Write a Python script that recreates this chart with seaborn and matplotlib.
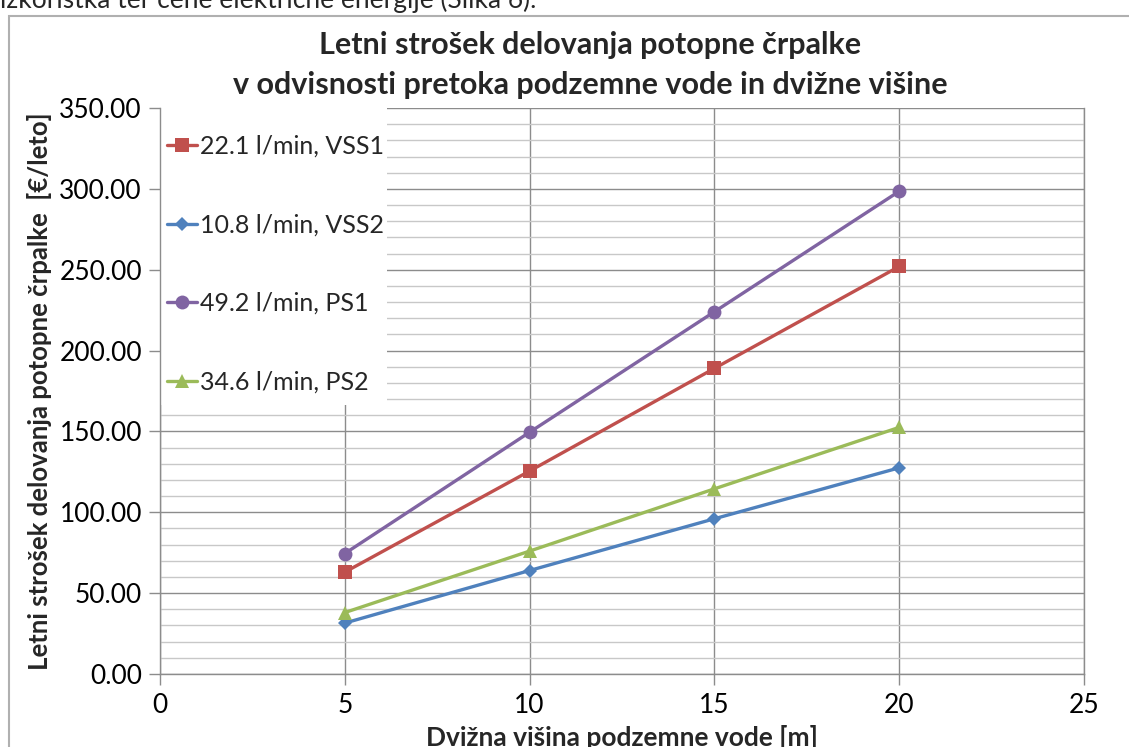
import matplotlib
matplotlib.use("Agg")
import matplotlib.pyplot as plt
from matplotlib.patches import Rectangle
from matplotlib.ticker import MultipleLocator, FormatStrFormatter
import seaborn as sns
import pandas as pd

heights = [5, 10, 15, 20]
series_names = ["22.1 l/min, VSS1", "10.8 l/min, VSS2", "49.2 l/min, PS1", "34.6 l/min, PS2"]
vss1 = [63.0, 125.5, 189.0, 252.0]
vss2 = [31.5, 64.0, 96.0, 127.5]
ps1 = [74.5, 149.5, 224.0, 298.5]
ps2 = [38.0, 76.0, 114.5, 152.5]
colors = ["#C0504D", "#4F81BD", "#8064A2", "#9BBB59"]
marker_list = ["s", "D", "o", "^"]
marker_sizes = [10, 7.5, 10, 10]

rows = []
for name, vals in zip(series_names, [vss1, vss2, ps1, ps2]):
    for h, v in zip(heights, vals):
        rows.append({"h": h, "v": v, "s": name})
df = pd.DataFrame(rows)

sns.set_theme(style="white")
plt.rcParams['font.family'] = ['Lato', 'DejaVu Sans']

fig = plt.figure(figsize=(11.29, 7.47), dpi=100)
ax = fig.add_axes([160/1129, 1-674/747, (1084-160)/1129, (674-108)/747])

for name, c, m, ms in zip(series_names, colors, marker_list, marker_sizes):
    sub = df[df["s"] == name]
    sns.lineplot(data=sub, x="h", y="v", ax=ax, color=c, marker=m, markersize=ms,
                 markeredgewidth=0, linewidth=2.4, label=name, zorder=3)

ax.set_xlim(0, 25)
ax.set_ylim(0, 350)
ax.xaxis.set_major_locator(MultipleLocator(5))
ax.yaxis.set_major_locator(MultipleLocator(50))
ax.yaxis.set_minor_locator(MultipleLocator(10))
ax.yaxis.set_major_formatter(FormatStrFormatter("%.2f"))
ax.grid(True, which="major", axis="both", color="#8c8c8c", linewidth=1.0, zorder=0)
ax.grid(True, which="minor", axis="y", color="#c8c8c8", linewidth=1.0, zorder=0)
ax.set_axisbelow(True)
for sp in ax.spines.values():
    sp.set_color("#8c8c8c")
    sp.set_linewidth(1.0)
ax.spines["top"].set_visible(False)
ax.tick_params(axis="both", which="major", direction="out", length=8, width=1,
               color="#8c8c8c", labelsize=19, labelcolor="black", pad=5)
ax.tick_params(axis="x", pad=6)
ax.tick_params(axis="y", which="minor", length=0)
ax.tick_params(left=True, bottom=True)

ax.set_xlabel("Dvižna višina podzemne vode [m]", fontsize=19, fontweight="bold", labelpad=5)
ax.set_ylabel("Letni strošek delovanja potopne črpalke  [€/leto]", fontsize=18.5,
              fontweight="bold", labelpad=5)

# white legend area covering the grid in the upper-left corner
ax.add_patch(Rectangle((0, (674-405)/566), (387-160)/924, 1 - (674-405)/566,
                       transform=ax.transAxes, facecolor="white", edgecolor="none", zorder=1))

leg = ax.legend(loc="upper left", bbox_to_anchor=(7/924, (674-135)/566), frameon=False,
                fontsize=18, labelspacing=2.22, handlelength=1.2, handletextpad=0.12,
                borderpad=0.0, borderaxespad=0.0)

fig.text(590/1129, 1-45/747, "Letni strošek delovanja potopne črpalke", ha="center", va="center",
         fontsize=22, fontweight="bold")
fig.text(590/1129, 1-85/747, "v odvisnosti pretoka podzemne vode in dvižne višine", ha="center",
         va="center", fontsize=22, fontweight="bold")

fig.text(0.0, 1.0, "izkoristka ter cene električne energije (Slika 6).", ha="left", va="center",
         fontsize=19)

frame = Rectangle((9/1129, -0.05), 1.2, 1.05 - 16/747, transform=fig.transFigure,
                  fill=False, edgecolor="#b0b0b0", linewidth=1.5)
fig.patches.append(frame)

fig.savefig("out.png", dpi=100, facecolor="white")
